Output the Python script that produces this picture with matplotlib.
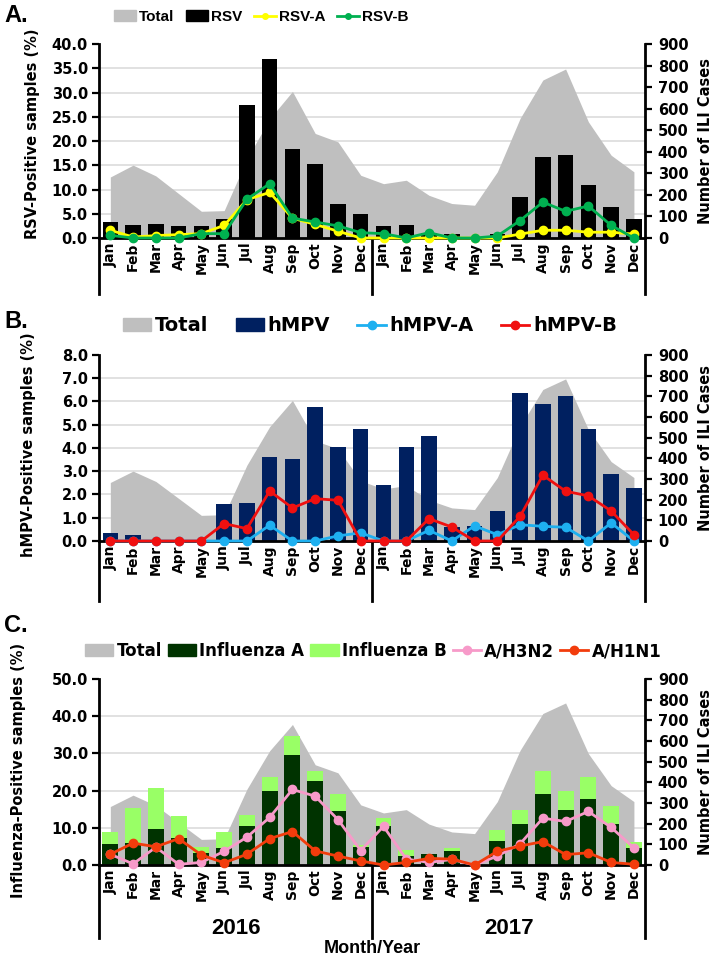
import numpy as np
import matplotlib
matplotlib.use('Agg')
import matplotlib.pyplot as plt
from matplotlib.patches import Patch
from matplotlib.lines import Line2D

plt.rcParams['font.family'] = 'DejaVu Sans'
plt.rcParams['font.weight'] = 'bold'
plt.rcParams['axes.labelweight'] = 'bold'

months = ['Jan', 'Feb', 'Mar', 'Apr', 'May', 'Jun',
          'Jul', 'Aug', 'Sep', 'Oct', 'Nov', 'Dec'] * 2
years = ['2016', '2017']

# number of ILI cases per month (right axis), same in all panels
total_ili = [283, 338, 288, 206, 124, 127, 367, 553, 680, 485, 446, 291,
             252, 268, 198, 160, 152, 307, 555, 733, 784, 539, 384, 307]

# panel A (%)
rsv = [3.3, 2.6, 2.8, 2.4, 2.4, 4.0, 27.4, 36.9, 18.3, 15.2, 7.1, 4.9,
       2.4, 2.6, 1.0, 0.8, 0.0, 0.8, 8.5, 16.7, 17.2, 10.9, 6.3, 4.0]
rsv_a = [1.6, 0.2, 0.5, 0.7, 0.9, 2.6, 7.9, 9.4, 4.1, 2.8, 1.4, 0.0,
         0.0, 0.0, 0.0, 0.0, 0.0, 0.0, 0.8, 1.6, 1.6, 1.2, 1.2, 0.8]
rsv_b = [0.55, 0.0, 0.0, 0.0, 0.9, 0.9, 8.0, 11.2, 4.1, 3.3, 2.5, 1.1,
         0.9, 0.0, 1.1, 0.0, 0.0, 0.4, 3.6, 7.4, 5.5, 6.6, 2.6, 0.0]

# panel B (%)
hmpv = [0.35, 0.27, 0.0, 0.0, 0.0, 1.58, 1.65, 3.6, 3.53, 5.78, 4.05, 4.8,
        2.4, 4.05, 4.51, 0.6, 0.63, 1.28, 6.35, 5.89, 6.25, 4.81, 2.86, 2.28]
hmpv_a = [0.0, 0.0, 0.0, 0.0, 0.0, 0.0, 0.0, 0.68, 0.0, 0.0, 0.22, 0.35,
          0.0, 0.0, 0.46, 0.0, 0.65, 0.27, 0.7, 0.63, 0.59, 0.0, 0.78, 0.0]
hmpv_b = [0.0, 0.0, 0.0, 0.0, 0.0, 0.75, 0.53, 2.15, 1.42, 1.82, 1.75, 0.0,
          0.0, 0.0, 0.96, 0.6, 0.0, 0.0, 1.06, 2.83, 2.14, 1.94, 1.29, 0.27]

# panel C (%)
flu_a = [5.7, 6.0, 9.8, 7.3, 3.2, 4.6, 10.4, 19.8, 29.5, 22.5, 14.5, 4.8,
         10.4, 2.3, 3.0, 3.7, 0.0, 6.4, 11.0, 19.1, 14.7, 17.8, 10.9, 4.6]
flu_b = [3.1, 9.3, 10.9, 6.0, 1.7, 4.2, 3.1, 3.9, 5.1, 2.7, 4.7, 0.7,
         2.2, 1.8, 0.0, 0.9, 0.0, 2.9, 3.9, 6.3, 5.1, 5.9, 4.9, 1.5]
h3n2 = [2.9, 0.3, 4.8, 0.2, 0.7, 3.7, 7.5, 12.8, 20.3, 18.5, 12.2, 3.9,
        10.4, 1.6, 0.7, 1.5, 0.0, 2.4, 5.7, 12.6, 11.7, 14.4, 10.1, 4.6]
h1n1 = [2.9, 5.9, 4.9, 7.1, 2.7, 0.6, 2.9, 7.1, 9.0, 3.8, 2.4, 1.1,
        0.0, 0.7, 1.8, 1.6, 0.0, 3.7, 5.1, 6.3, 2.8, 3.3, 0.7, 0.2]

GREY = '#bfbfbf'
x = np.arange(len(months))

fig = plt.figure(figsize=(7.17, 9.57), dpi=100)


def make_panel(rect, lmax, lstep, ylabel, sep_depth):
    ax = fig.add_axes(rect)
    axr = ax.twinx()
    ax.set_zorder(axr.get_zorder() + 1)
    ax.patch.set_visible(False)

    axr.fill_between(x, total_ili, color=GREY, lw=0, zorder=1)
    axr.set_ylim(0, 900)
    axr.set_yticks(np.arange(0, 901, 100))
    lticks = np.arange(0, lmax + lstep / 2, lstep)
    axr.set_yticks(lticks * 900 / lmax, minor=True)
    axr.set_axisbelow(True)
    axr.yaxis.grid(True, which='minor', color='#dcdcdc', lw=1.2)
    axr.tick_params(axis='y', which='minor', length=0)
    axr.tick_params(axis='y', which='major', labelsize=10.5, width=1.6,
                    length=5, pad=4)
    axr.set_ylabel('Number of ILI Cases', fontsize=10.5)
    axr.yaxis.set_label_coords(1.097, 0.5)
    for s in ['top', 'left', 'bottom']:
        axr.spines[s].set_visible(False)
    axr.spines['right'].set_linewidth(2)

    ax.set_xlim(-0.5, len(months) - 0.5)
    ax.set_ylim(0, lmax)
    ax.set_yticks(lticks)
    ax.set_yticklabels(['%.1f' % v for v in lticks])
    ax.tick_params(axis='y', labelsize=10.5, width=1.6, length=5, pad=3)
    ax.set_xticks(x)
    ax.set_xticklabels(months, rotation=90, fontsize=10)
    ax.tick_params(axis='x', length=0, pad=3)
    ax.set_ylabel(ylabel, fontsize=10.5)
    for s in ['top', 'right']:
        ax.spines[s].set_visible(False)
    ax.spines['left'].set_linewidth(2)
    ax.spines['bottom'].set_linewidth(2)
    for xs in (-0.5, 11.5, len(months) - 0.5):
        ax.axvline(xs, ymin=-sep_depth, ymax=0, color='k', lw=2,
                   clip_on=False)
    return ax, axr


def line(ax, y, color, z=4):
    ax.plot(x, y, color=color, lw=2, marker='o', ms=6, zorder=z,
            clip_on=False)


# ---- panel A
axA, _ = make_panel([0.138, 0.7513, 0.762, 0.2027], 40, 5,
                    'RSV-Positive samples (%)', 0.29)
axA.yaxis.set_label_coords(-0.108, 0.54)
axA.bar(x, rsv, width=0.68, color='black', zorder=2)
line(axA, rsv_a, '#ffff00', 4)
line(axA, rsv_b, '#00b050', 5)
hA = [Patch(color=GREY, label='Total'), Patch(color='black', label='RSV'),
      Line2D([], [], color='#ffff00', lw=2, marker='o', ms=4, label='RSV-A'),
      Line2D([], [], color='#00b050', lw=2, marker='o', ms=4, label='RSV-B')]
axA.legend(handles=hA, loc='center', bbox_to_anchor=(0.297, 1.139), ncol=4,
           frameon=False, handlelength=1.4, handletextpad=0.2,
           columnspacing=0.8, borderpad=0,
           prop={'family': 'Liberation Sans', 'weight': 'bold', 'size': 11})

# ---- panel B
axB, _ = make_panel([0.138, 0.4347, 0.762, 0.1944], 8, 1,
                    'hMPV-Positive samples (%)', 0.32)
axB.yaxis.set_label_coords(-0.115, 0.52)
axB.bar(x, hmpv, width=0.68, color='#002060', zorder=2)
line(axB, hmpv_a, '#1eb0f0', 4)
line(axB, hmpv_b, '#f01010', 5)
hB = [Patch(color=GREY, label='Total'), Patch(color='#002060', label='hMPV'),
      Line2D([], [], color='#1eb0f0', lw=2, marker='o', ms=6, label='hMPV-A'),
      Line2D([], [], color='#f01010', lw=2, marker='o', ms=6, label='hMPV-B')]
axB.legend(handles=hB, loc='center', bbox_to_anchor=(0.496, 1.156), ncol=4,
           frameon=False, fontsize=14, handlelength=1.45, handletextpad=0.2,
           columnspacing=1.4, borderpad=0)

# ---- panel C
axC, _ = make_panel([0.138, 0.0961, 0.762, 0.1944], 50, 10,
                    'Influenza-Positive samples (%)', 0.39)
axC.yaxis.set_label_coords(-0.134, 0.51)
axC.bar(x, flu_a, width=0.7, color='#003300', zorder=2)
axC.bar(x, flu_b, bottom=flu_a, width=0.7, color='#99ff66', zorder=2)
line(axC, h3n2, '#f79ac9', 4)
line(axC, h1n1, '#f23c0c', 5)
hC = [Patch(color=GREY, label='Total'),
      Patch(color='#003300', label='Influenza A'),
      Patch(color='#99ff66', label='Influenza B'),
      Line2D([], [], color='#f79ac9', lw=2, marker='o', ms=6, label='A/H3N2'),
      Line2D([], [], color='#f23c0c', lw=2, marker='o', ms=6, label='A/H1N1')]
axC.legend(handles=hC, loc='center', bbox_to_anchor=(0.502, 1.15), ncol=5,
           frameon=False, fontsize=12, handlelength=1.7, handletextpad=0.2,
           columnspacing=0.35, borderpad=0)
for i, yr in enumerate(years):
    axC.text(5.5 + 12 * i, -0.34, yr, ha='center', va='center',
             transform=axC.get_xaxis_transform(), fontsize=16,
             family='Liberation Sans', weight='bold')
axC.text(11.5, -0.45, 'Month/Year', ha='center', va='center',
         transform=axC.get_xaxis_transform(), fontsize=13,
         family='Liberation Sans', weight='bold')

for lab, yy in zip(['A.', 'B.', 'C.'], [0.984, 0.664, 0.346]):
    fig.text(0.006, yy, lab, fontsize=17, family='Liberation Sans',
             weight='bold', va='center')

fig.savefig('out.png', dpi=100)
